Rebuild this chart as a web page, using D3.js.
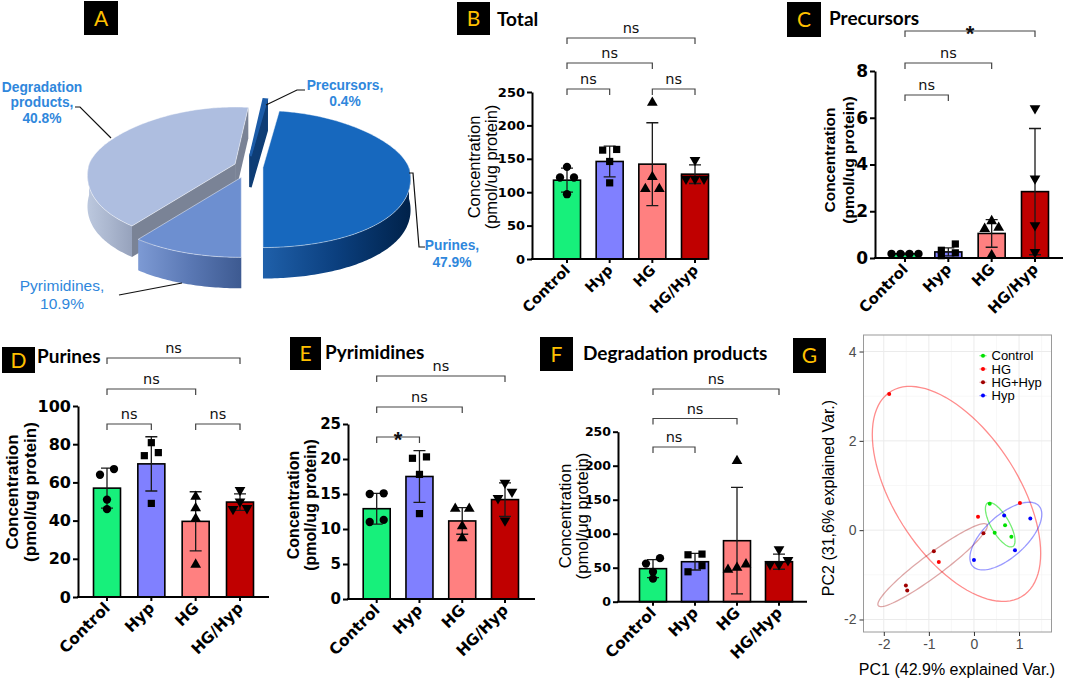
<!DOCTYPE html>
<html><head><meta charset="utf-8">
<script src="https://cdn.jsdelivr.net/npm/d3@7"></script>
<style>body{margin:0;background:#fff}svg{display:block}</style>
</head><body>
<svg id="c" width="1065" height="682"></svg>
<script>
// ================= DATA =================
const pieCategories = ["Purines", "Pyrimidines", "Degradation products", "Precursors"];
const piePercents = [47.9, 10.9, 40.8, 0.4];

const groups = ["Control", "Hyp", "HG", "HG/Hyp"];

const totalMeans = [118, 146, 142, 127];
const totalSD = [18, 23, 62, 14];
const totalPoints = [[138, 122, 122, 97], [163, 164, 146, 114], [234, 123, 105, 105], [148, 120, 120, 120]];
const totalSig = [["Control", "Hyp", "ns"], ["HG", "HG/Hyp", "ns"], ["Control", "HG", "ns"], ["Control", "HG/Hyp", "ns"]];
const totalTicks = [0, 50, 100, 150, 200, 250];

const precMeans = [0.18, 0.26, 1.05, 2.84];
const precSD = [0.03, 0.17, 0.59, 2.7];
const precPoints = [[0.18, 0.18, 0.18, 0.18], [0.1, 0.22, 0.33, 0.6], [1.3, 1.58, 1.25, 0.12], [6.4, 3.4, 1.4, 0.25]];
const precSig = [["Control", "Hyp", "ns"], ["Control", "HG", "ns"], ["Control", "HG/Hyp", "*"]];
const precTicks = [0, 2, 4, 6, 8];

const purMeans = [57, 69.7, 39.6, 49.7];
const purSD = [10.5, 14.2, 15.5, 4.3];
const purPoints = [[64, 67, 51, 46], [80.8, 75.6, 74, 49], [52.5, 46.5, 41, 17], [56, 46, 50, 46.5]];
const purSig = [["Control", "Hyp", "ns"], ["HG", "HG/Hyp", "ns"], ["Control", "HG", "ns"], ["Control", "HG/Hyp", "ns"]];
const purTicks = [0, 20, 40, 60, 80, 100];

const pyrMeans = [12.9, 17.5, 11.15, 14.2];
const pyrSD = [2.2, 3.7, 1.9, 2.4];
const pyrPoints = [[15.0, 15.1, 11.0, 11.3], [20.1, 20.3, 17.8, 12.2], [12.9, 12.9, 10.4, 8.7], [16.6, 15.3, 14.4, 11.2]];
const pyrSig = [["Control", "Hyp", "*"], ["Control", "HG", "ns"], ["Control", "HG/Hyp", "ns"]];
const pyrTicks = [0, 5, 10, 15, 20, 25];

const degMeans = [48.6, 58.8, 89.7, 58.8];
const degSD = [13.3, 12.2, 78.3, 11.1];
const degPoints = [[56, 64, 44, 34], [69, 70, 44, 53], [207, 55, 47, 50], [77, 61, 55, 55]];
const degSig = [["Control", "Hyp", "ns"], ["Control", "HG", "ns"], ["Control", "HG/Hyp", "ns"]];
const degTicks = [0, 50, 100, 150, 200, 250];

const pcaGroups = ["Control", "HG", "HG+Hyp", "Hyp"];
const pcaControl = [[0.35, 0.59], [0.69, 0.11], [0.46, -0.06], [0.83, -0.15]];
const pcaHG = [[-1.88, 3.05], [0.09, 0.30], [1.02, 0.61], [-0.78, -0.71]];
const pcaHGHyp = [[0.21, -0.07], [-0.89, -0.47], [-1.51, -1.24], [-1.48, -1.35]];
const pcaHyp = [[0.67, 0.33], [1.25, 0.26], [0.91, -0.45], [0.0, -0.67]];
const pcXTicks = [-2, -1, 0, 1];
const pcYTicks = [-2, 0, 2, 4];

// ================= DRAWING =================
const svg = d3.select("#c");
svg.append("rect").attr("width", 1065).attr("height", 682).attr("fill", "#fff");
const defs = svg.append("defs");
const TITLE_FONT = "Lato, 'Open Sans', sans-serif";
const GP_FONT = "'DejaVu Sans', sans-serif";
const R_FONT = "'Liberation Sans', Arial, sans-serif";

function panelLabel(x, y, w, h, letter) {
  svg.append("rect").attr("x", x).attr("y", y).attr("width", w).attr("height", h).attr("fill", "#000");
  svg.append("text").attr("x", x + w / 2).attr("y", y + h / 2).attr("dy", "0.36em")
    .attr("text-anchor", "middle").attr("font-family", TITLE_FONT).attr("font-size", 21)
    .attr("fill", "#ffc000").text(letter);
}
function title(x, y, str, size) {
  svg.append("text").attr("x", x).attr("y", y).attr("font-family", TITLE_FONT)
    .attr("font-weight", "bold").attr("font-size", size).attr("fill", "#000").text(str);
}

// ---------- Panel A : exploded 3D pie ----------
panelLabel(84, 1, 34, 34, "A");
(function () {
  const TAU = Math.PI * 2;
  const a0 = Math.PI - piePercents[0] / 100 * TAU;
  const arcs = d3.pie().sort(null).value(d => d).startAngle(a0).endAngle(a0 + TAU)(piePercents);
  const C0 = [248, 167], RX = 146, RYB = 57, RYF = 80, K = 0.15, DEPTH = 31;
  const explode = [15, 20, 14, 20];
  const topFill = ["#1768be", "#6d8fd0", "#aebee0", "#1c5ca8"];
  const wallStops = [["#1f60aa", "#0b3f7e", "#00224a"], ["#7d9ad4", "#5a78b4", "#3d5a91"],
                     ["#bcc8de", "#aab6ce", "#96a2bc"], ["#154886", "#103f78", "#0b3060"]];
  const radialFill = ["#0c3d78", "#4d6aa5", "#7a8396", "#0e3d75"];
  wallStops.forEach((st, i) => {
    const lg = defs.append("linearGradient").attr("id", "pw" + i).attr("x1", 0).attr("x2", 1).attr("y1", 0).attr("y2", 0);
    st.forEach((c, k) => lg.append("stop").attr("offset", k / (st.length - 1)).attr("stop-color", c));
  });
  function proj(c, t, dy) {
    const u = Math.sin(t), v = -Math.cos(t);
    return [c[0] + RX * u * (1 + K * v), c[1] + (v > 0 ? RYF : RYB) * v + (dy || 0)];
  }
  function arcPts(c, t1, t2, dy) {
    const n = Math.max(2, Math.ceil(Math.abs(t2 - t1) / (Math.PI / 180)));
    const out = [];
    for (let k = 0; k <= n; k++) out.push(proj(c, t1 + (t2 - t1) * k / n, dy));
    return out;
  }
  const line = d3.line();
  const order = [2, 3, 0, 1];
  order.forEach(i => {
    const a = arcs[i];
    const t1 = a.startAngle, t2 = a.endAngle, mid = (t1 + t2) / 2;
    const c = [C0[0] + explode[i] * Math.sin(mid), C0[1] - explode[i] * Math.cos(mid) * 0.55];
    const g = svg.append("g");
    const thin = (t2 - t1) < 0.1;
    const wall = t => {
      const p = proj(c, t);
      return line([c, p, [p[0], p[1] + DEPTH], [c[0], c[1] + DEPTH]]) + "Z";
    };
    if (Math.sin(t1) < -1e-6) g.append("path").attr("d", wall(t1)).attr("fill", radialFill[i]);
    if (Math.sin(t2) > 1e-6) g.append("path").attr("d", wall(t2)).attr("fill", radialFill[i])
      .attr("stroke", thin ? radialFill[i] : "none").attr("stroke-width", thin ? 2.5 : 0);
    [[Math.PI / 2, 1.5 * Math.PI], [2.5 * Math.PI, 3.5 * Math.PI]].forEach(([lo, hi]) => {
      const s = Math.max(t1, lo), e = Math.min(t2, hi);
      if (e > s) {
        const top = arcPts(c, s, e, 0), bot = arcPts(c, e, s, DEPTH);
        g.append("path").attr("d", line(top.concat(bot)) + "Z").attr("fill", `url(#pw${i})`);
      }
    });
    const face = [c].concat(arcPts(c, t1, t2, 0));
    g.append("path").attr("d", line(face) + "Z").attr("fill", topFill[i])
      .attr("stroke", thin ? topFill[i] : "rgba(255,255,255,0.45)").attr("stroke-width", thin ? 2.5 : 1);
  });

  const lab = (x, ys, lines, weight, size) => {
    const t = svg.append("text").attr("text-anchor", "middle").attr("font-family", R_FONT)
      .attr("font-weight", weight).attr("font-size", size).attr("fill", "#2f87dc");
    lines.forEach((s, k) => t.append("tspan").attr("x", x).attr("y", ys[k]).text(s));
  };
  const pct = i => piePercents[i].toFixed(1) + "%";
  lab(42, [91.5, 107.2, 123], ["Degradation", "products,", pct(2)], "bold", 13.8);
  lab(345, [90, 106], [pieCategories[3] + ",", pct(3)], "bold", 13.8);
  lab(452, [250, 267], [pieCategories[0] + ",", pct(0)], "bold", 13.8);
  lab(62, [291, 309], [pieCategories[1] + ",", pct(1)], "normal", 15.5);
  const lead = pts => svg.append("path").attr("d", d3.line()(pts)).attr("fill", "none")
    .attr("stroke", "#111").attr("stroke-width", 1.2);
  lead([[75, 107], [80, 107], [111, 138]]);
  lead([[305, 90], [297, 90], [266, 105]]);
  lead([[409, 173], [413, 173], [419, 247], [425, 247]]);
  lead([[119, 295], [182, 283]]);
})();

// ---------- Bar panels ----------
const barColors = ["#17f07b", "#8080ff", "#ff8080", "#c00000"];
const markers = [d3.symbolCircle, d3.symbolSquare, d3.symbolTriangle, d3.symbolTriangle];
const markerSize = [54, 52, 50, 50];

function barPanel(cfg, means, sds, pts, sig, ticks) {
  const g = svg.append("g");
  const y = d3.scaleLinear().domain([0, cfg.max]).range([cfg.y0, cfg.yTop]);
  const x = d3.scalePoint().domain(groups).range([cfg.first, cfg.last]);
  const BW = 27;
  g.selectAll("rect.bar").data(groups).join("rect").attr("class", "bar")
    .attr("x", d => x(d) - BW / 2).attr("width", BW)
    .attr("y", (d, i) => y(means[i])).attr("height", (d, i) => cfg.y0 - y(means[i]))
    .attr("fill", (d, i) => barColors[i]).attr("stroke", "#000").attr("stroke-width", 1.6);
  groups.forEach((d, i) => {
    const cx = x(d), yt = y(means[i] + sds[i]), yb = y(Math.max(0, means[i] - sds[i]));
    const p = `M${cx},${yb}V${yt}M${cx - 6},${yt}H${cx + 6}M${cx - 6},${yb}H${cx + 6}`;
    g.append("path").attr("d", p).attr("stroke", "#1a1a1a").attr("stroke-width", 1.3).attr("fill", "none");
  });
  groups.forEach((d, i) => {
    const arr = pts[i].map(v => ({ v, py: y(v) })).sort((a, b) => a.py - b.py);
    const clusters = [];
    arr.forEach(p => {
      const last = clusters[clusters.length - 1];
      if (last && p.py - last[0].py < 6.5) last.push(p); else clusters.push([p]);
    });
    clusters.forEach(cl => {
      cl.sort((a, b) => a.v - b.v);
      const sp = cl.length === 2 ? 14 : 9;
      cl.forEach((p, k) => {
        const px = x(d) + (k - (cl.length - 1) / 2) * sp;
        g.append("path").attr("d", d3.symbol().type(markers[i]).size(markerSize[i])())
          .attr("transform", `translate(${px},${p.py})${i === 3 ? " rotate(180)" : ""}`)
          .attr("fill", "#000");
      });
    });
  });
  const ya = d3.axisLeft(y).tickValues(ticks).tickSize(5).tickSizeOuter(0).tickPadding(2);
  const yg = g.append("g").attr("transform", `translate(${cfg.axisX},0)`).call(ya);
  yg.select(".domain").attr("stroke-width", 2);
  yg.selectAll(".tick line").attr("stroke-width", 2);
  yg.selectAll("text").attr("font-family", GP_FONT).attr("font-weight", "bold")
    .attr("font-size", cfg.tickFont).attr("fill", "#000");
  g.append("line").attr("x1", cfg.axisX - 1).attr("x2", cfg.xEnd).attr("y1", cfg.y0).attr("y2", cfg.y0)
    .attr("stroke", "#000").attr("stroke-width", 2);
  groups.forEach(d => {
    g.append("line").attr("x1", x(d)).attr("x2", x(d)).attr("y1", cfg.y0).attr("y2", cfg.y0 + 4)
      .attr("stroke", "#000").attr("stroke-width", 2);
    g.append("text").attr("transform", `translate(${x(d) + 4},${cfg.y0 + 12}) rotate(-45)`)
      .attr("text-anchor", "end").attr("font-family", GP_FONT).attr("font-weight", "bold")
      .attr("font-size", cfg.xFont).attr("fill", "#000").text(d);
  });
  ["Concentration", "(pmol/ug protein)"].forEach((t, k) => {
    g.append("text").attr("transform", `translate(${cfg.titleX[k]},${cfg.titleY}) rotate(-90)`)
      .attr("text-anchor", "middle").attr("dy", "0.35em").attr("font-family", R_FONT)
      .attr("font-weight", cfg.titleWeight).attr("font-size", cfg.titleSize).attr("fill", "#000").text(t);
  });
  sig.forEach((s, k) => {
    const x1 = x(s[0]), x2 = x(s[1]), ly = cfg.brY[k];
    g.append("path").attr("d", `M${x1},${ly + 6}V${ly}H${x2}V${ly + 6}`).attr("fill", "none")
      .attr("stroke", "#444").attr("stroke-width", 1.2);
    const star = s[2] === "*";
    g.append("text").attr("x", (x1 + x2) / 2).attr("y", star ? ly + 10 : ly - 5).attr("text-anchor", "middle")
      .attr("font-family", star ? R_FONT : GP_FONT).attr("font-weight", star ? "bold" : "normal")
      .attr("font-size", star ? 22 : 14.5).attr("fill", "#111").text(s[2]);
  });
}

// B
panelLabel(457, 2, 33, 33, "B");
title(497, 26, "Total", 19);
barPanel({ axisX: 532, xEnd: 707, y0: 259, yTop: 92, max: 250, first: 567, last: 695, tickFont: 13,
  xFont: 14.5, titleX: [474, 491.5], titleY: 167, titleWeight: "normal", titleSize: 16.5,
  brY: [89, 89, 63, 38] }, totalMeans, totalSD, totalPoints, totalSig, totalTicks);

// C
panelLabel(787, 2, 34, 35, "C");
title(829, 25, "Precursors", 19);
barPanel({ axisX: 875, xEnd: 1063, y0: 258, yTop: 71, max: 8, first: 905, last: 1035, tickFont: 17,
  xFont: 15, titleX: [830, 849], titleY: 160, titleWeight: "bold", titleSize: 15.5,
  brY: [95, 63, 31] }, precMeans, precSD, precPoints, precSig, precTicks);

// D
panelLabel(2, 347, 33, 26, "D");
title(37, 363, "Purines", 19);
barPanel({ axisX: 78, xEnd: 269, y0: 597, yTop: 406, max: 100, first: 107, last: 240, tickFont: 16,
  xFont: 15.5, titleX: [12.5, 30.5], titleY: 492, titleWeight: "bold", titleSize: 17,
  brY: [424, 424, 389, 358] }, purMeans, purSD, purPoints, purSig, purTicks);

// E
panelLabel(290, 337, 31, 33, "E");
title(325, 359, "Pyrimidines", 19);
barPanel({ axisX: 348, xEnd: 535, y0: 599, yTop: 424, max: 25, first: 376.7, last: 505, tickFont: 15,
  xFont: 15.5, titleX: [293.5, 310], titleY: 505, titleWeight: "bold", titleSize: 16,
  brY: [437, 407, 376] }, pyrMeans, pyrSD, pyrPoints, pyrSig, pyrTicks);

// F
panelLabel(540, 337, 33, 34, "F");
title(583, 360, "Degradation products", 19);
barPanel({ axisX: 618, xEnd: 807, y0: 601.7, yTop: 431.7, max: 250, first: 653, last: 779, tickFont: 12.5,
  xFont: 15.5, titleX: [565, 582.5], titleY: 516, titleWeight: "normal", titleSize: 16.8,
  brY: [447, 418.5, 389] }, degMeans, degSD, degPoints, degSig, degTicks);

// ---------- Panel G : PCA biplot ----------
panelLabel(793, 338, 33, 35, "G");
(function () {
  const x = d3.scaleLinear().domain([-2.45, 1.72]).range([863.5, 1051.5]);
  const y = d3.scaleLinear().domain([-2.28, 4.37]).range([632, 335]);
  const g = svg.append("g");
  const [X0, X1] = x.range(), [Y0, Y1] = y.range();
  const minorX = [-1.5, -0.5, 0.5, 1.5];
  const minorY = [-1, 1, 3];
  minorX.forEach(v => g.append("line").attr("x1", x(v)).attr("x2", x(v)).attr("y1", Y0).attr("y2", Y1).attr("stroke", "#f3f3f3").attr("stroke-width", 0.6));
  minorY.forEach(v => g.append("line").attr("y1", y(v)).attr("y2", y(v)).attr("x1", X0).attr("x2", X1).attr("stroke", "#f3f3f3").attr("stroke-width", 0.6));
  pcXTicks.forEach(v => g.append("line").attr("x1", x(v)).attr("x2", x(v)).attr("y1", Y0).attr("y2", Y1).attr("stroke", "#ebebeb").attr("stroke-width", 1));
  pcYTicks.forEach(v => g.append("line").attr("y1", y(v)).attr("y2", y(v)).attr("x1", X0).attr("x2", X1).attr("stroke", "#ebebeb").attr("stroke-width", 1));
  g.append("rect").attr("x", X0).attr("y", Y1).attr("width", X1 - X0).attr("height", Y0 - Y1)
    .attr("fill", "none").attr("stroke", "#9a9a9a").attr("stroke-width", 1);

  const colors = ["#00e000", "#ff0000", "#a00000", "#0000ff"];
  const ellOpacity = [0.55, 0.45, 0.35, 0.4];
  const data = [pcaControl, pcaHG, pcaHGHyp, pcaHyp];
  const ed = Math.sqrt(-2 * Math.log(1 - 0.68));
  const line = d3.line().x(d => x(d[0])).y(d => y(d[1]));
  data.forEach((pts, i) => {
    const n = pts.length;
    const mx = d3.mean(pts, p => p[0]), my = d3.mean(pts, p => p[1]);
    let sxx = 0, syy = 0, sxy = 0;
    pts.forEach(p => { sxx += (p[0] - mx) ** 2; syy += (p[1] - my) ** 2; sxy += (p[0] - mx) * (p[1] - my); });
    sxx /= n - 1; syy /= n - 1; sxy /= n - 1;
    const a = Math.sqrt(sxx), b = sxy / a, c = Math.sqrt(Math.max(0, syy - b * b));
    const ring = d3.range(0, 101).map(k => {
      const t = k / 100 * 2 * Math.PI;
      return [mx + ed * a * Math.cos(t), my + ed * (b * Math.cos(t) + c * Math.sin(t))];
    });
    g.append("path").attr("d", line(ring)).attr("fill", "none").attr("stroke", colors[i])
      .attr("stroke-opacity", ellOpacity[i]).attr("stroke-width", 1.3);
  });
  data.forEach((pts, i) => {
    pts.forEach(p => g.append("circle").attr("cx", x(p[0])).attr("cy", y(p[1])).attr("r", 2).attr("fill", colors[i]));
  });
  const fmt = d => String(d);
  const ax = g.append("g").attr("transform", `translate(0,${Y0})`).call(d3.axisBottom(x).tickValues(pcXTicks).tickFormat(fmt).tickSize(4).tickPadding(3));
  const ay = g.append("g").attr("transform", `translate(${X0},0)`).call(d3.axisLeft(y).tickValues(pcYTicks).tickFormat(fmt).tickSize(4).tickPadding(3));
  [ax, ay].forEach(a => {
    a.select(".domain").remove();
    a.selectAll(".tick line").attr("stroke", "#333");
    a.selectAll("text").attr("font-family", R_FONT).attr("font-size", 14).attr("fill", "#4d4d4d");
  });
  g.append("text").attr("x", 957).attr("y", 675).attr("text-anchor", "middle").attr("font-family", R_FONT)
    .attr("font-size", 16).attr("fill", "#000").text("PC1 (42.9% explained Var.)");
  g.append("text").attr("transform", "translate(834,498) rotate(-90)").attr("text-anchor", "middle")
    .attr("font-family", R_FONT).attr("font-size", 16).attr("fill", "#000").text("PC2 (31,6% explained Var.)");
  pcaGroups.forEach((name, i) => {
    const ly = 355.7 + i * 13.3;
    g.append("line").attr("x1", 979.5).attr("x2", 986.5).attr("y1", ly).attr("y2", ly)
      .attr("stroke", colors[i]).attr("stroke-opacity", ellOpacity[i]).attr("stroke-width", 1.2);
    g.append("circle").attr("cx", 983).attr("cy", ly).attr("r", 2).attr("fill", colors[i]);
    g.append("text").attr("x", 991.5).attr("y", ly).attr("dy", "0.35em").attr("font-family", R_FONT)
      .attr("font-size", 13).attr("fill", "#000").text(name);
  });
})();
</script>
</body></html>
